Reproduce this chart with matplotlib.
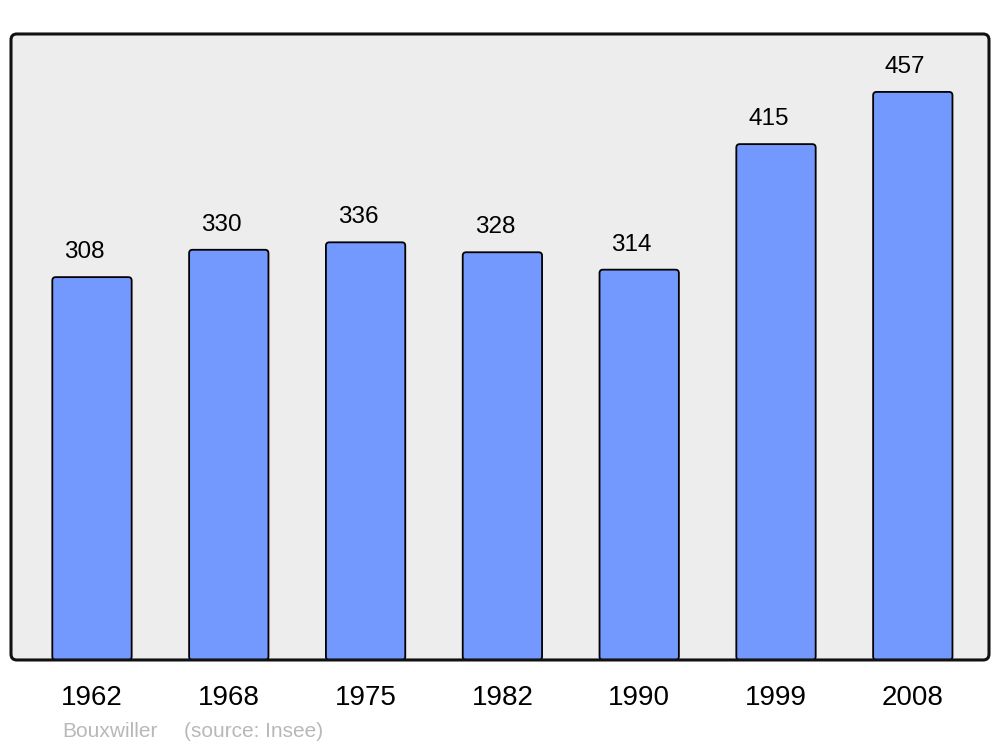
import matplotlib
matplotlib.use("Agg")
import matplotlib.pyplot as plt
from matplotlib.patches import FancyBboxPatch

plt.rcParams["font.family"] = ["Liberation Sans", "DejaVu Sans"]

# ---------------------------------------------------------------------------
# Data
# ---------------------------------------------------------------------------
years = ["1962", "1968", "1975", "1982", "1990", "1999", "2008"]
population = [308, 330, 336, 328, 314, 415, 457]
commune = "Bouxwiller"
source = "(source: Insee)"

BAR_COLOR = "#7399ff"
BG_COLOR = "#ededed"

fig = plt.figure(figsize=(10, 7.47), dpi=100)
ax = fig.add_axes([0.011, 0.1165, 0.978, 0.838])

x = range(len(years))
bars = ax.bar(x, population, width=0.58, color=BAR_COLOR, edgecolor="none")

ax.set_xlim(-0.592, 6.557)
ax.set_ylim(0, 503.6)

# replace plain rectangles with slightly rounded ones
for rect in bars:
    rounded = FancyBboxPatch(
        (rect.get_x(), rect.get_y()), rect.get_width(), rect.get_height(),
        boxstyle="round,pad=0,rounding_size=0.025", mutation_aspect=110,
        facecolor=BAR_COLOR, edgecolor="black", linewidth=1.3, zorder=2,
    )
    ax.add_patch(rounded)
    rect.set_visible(False)

# value labels above bars
for xi, val in zip(x, population):
    ax.annotate(str(val), (xi, val), xytext=(-5.5, 13.7), textcoords="offset points",
                ha="center", va="baseline", fontsize=17.5, color="black")

# background and rounded frame
ax.patch.set_visible(False)
for s in ax.spines.values():
    s.set_visible(False)
frame_bg = FancyBboxPatch((0, 0), 1, 1, boxstyle="round,pad=0,rounding_size=0.006",
                          mutation_aspect=978 / 626, transform=ax.transAxes,
                          facecolor=BG_COLOR, edgecolor="none", zorder=0)
frame = FancyBboxPatch((0, 0), 1, 1, boxstyle="round,pad=0,rounding_size=0.006",
                       mutation_aspect=978 / 626, transform=ax.transAxes,
                       facecolor="none", edgecolor="#111111", linewidth=2.2,
                       zorder=5, clip_on=False)
ax.add_patch(frame_bg)
ax.add_patch(frame)

ax.set_xticks(list(x))
ax.set_xticklabels(years, fontsize=20)
ax.tick_params(axis="x", length=0, pad=18)
ax.set_yticks([])
for lbl in ax.get_xticklabels():
    lbl.set_x(lbl.get_position()[0])

fig.text(0.062, 0.0135, commune, fontsize=15, color="#b8b8b8", ha="left", va="baseline")
fig.text(0.184, 0.0135, source, fontsize=15, color="#b8b8b8", ha="left", va="baseline")

fig.savefig("out.png", dpi=100)
